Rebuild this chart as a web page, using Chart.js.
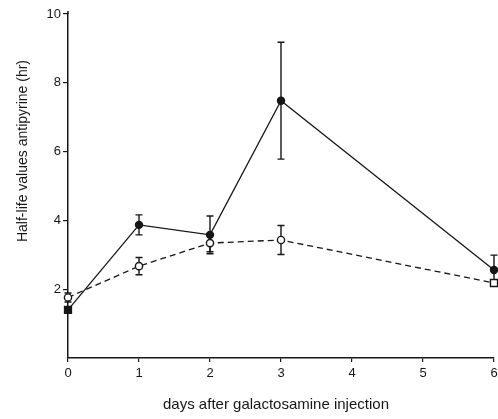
<!DOCTYPE html>
<html>
<head>
<meta charset="utf-8">
<script src="https://cdn.jsdelivr.net/npm/chart.js@4"></script>
<style>
html,body{margin:0;padding:0;background:#fff;}
#wrap{width:498px;height:419px;position:relative;}
</style>
</head>
<body>
<div id="wrap"><canvas id="c" width="498" height="419"></canvas></div>
<script>
// ---- data ----
const days = [0, 1, 2, 3, 6];
const galactosamine = [1.40, 3.87, 3.58, 7.48, 2.56];
const galactosamineSem = [0, 0.29, 0.55, 1.70, 0.43];
const control = [1.76, 2.67, 3.34, 3.43, 2.18];
const controlSem = [0.13, 0.25, 0.25, 0.42, 0];
const xTicks = [0, 1, 2, 3, 4, 5, 6];
const yTicks = [2, 4, 6, 8, 10];
const xTitle = 'days after galactosamine injection';
const yTitle = 'Half-life values antipyrine (hr)';

const INK = '#161616';
const FONT = '"Liberation Sans", Arial, Helvetica, sans-serif';

const errorBars = {
  id: 'errorBars',
  beforeDatasetsDraw(chart) {
    const ctx = chart.ctx;
    const xs = chart.scales.x, ys = chart.scales.y;
    const sets = [[galactosamine, galactosamineSem], [control, controlSem]];
    ctx.save();
    ctx.strokeStyle = INK;
    ctx.lineWidth = 1.4;
    sets.forEach(([vals, sem]) => {
      vals.forEach((v, i) => {
        if (!sem[i]) return;
        const x = xs.getPixelForValue(days[i]);
        const yt = ys.getPixelForValue(v + sem[i]);
        const yb = ys.getPixelForValue(v - sem[i]);
        ctx.beginPath();
        ctx.moveTo(x, yt); ctx.lineTo(x, yb);
        ctx.moveTo(x - 3.5, yt); ctx.lineTo(x + 3.5, yt);
        ctx.moveTo(x - 3.5, yb); ctx.lineTo(x + 3.5, yb);
        ctx.stroke();
      });
    });
    // y axis line runs a little above the top tick, as in the reference
    const ax = chart.chartArea.left;
    ctx.lineWidth = 1.5;
    ctx.beginPath();
    ctx.moveTo(ax, chart.chartArea.top);
    ctx.lineTo(ax, chart.chartArea.top - 3);
    ctx.stroke();
    ctx.restore();
  }
};

const axisTitles = {
  id: 'axisTitles',
  afterDraw(chart) {
    const ctx = chart.ctx;
    ctx.save();
    ctx.fillStyle = INK;
    ctx.textAlign = 'center';
    ctx.textBaseline = 'middle';
    ctx.font = '15px ' + FONT;
    ctx.fillText(xTitle, 276, 405);
    ctx.font = '14px ' + FONT;
    ctx.translate(23, 151);
    ctx.rotate(-Math.PI / 2);
    ctx.fillText(yTitle, 0, 0);
    ctx.restore();
  }
};

new Chart(document.getElementById('c'), {
  type: 'line',
  data: {
    datasets: [
      {
        label: 'galactosamine',
        data: days.map((d, i) => ({x: d, y: galactosamine[i]})),
        borderColor: INK,
        borderWidth: 1.3,
        backgroundColor: INK,
        pointBackgroundColor: INK,
        pointBorderColor: INK,
        pointStyle: ['rect', 'circle', 'circle', 'circle', 'circle'],
        pointRadius: [5, 3.6, 3.6, 3.6, 3.6],
        pointBorderWidth: 1.2,
        tension: 0,
        clip: false
      },
      {
        label: 'control',
        data: days.map((d, i) => ({x: d, y: control[i]})),
        borderColor: INK,
        borderWidth: 1.3,
        borderDash: [6, 4],
        backgroundColor: '#fff',
        pointBackgroundColor: '#fff',
        pointBorderColor: INK,
        pointStyle: ['circle', 'circle', 'circle', 'circle', 'rect'],
        pointRadius: [3.6, 3.6, 3.6, 3.6, 5],
        pointBorderWidth: 1.4,
        tension: 0,
        clip: false
      }
    ]
  },
  options: {
    responsive: false,
    animation: false,
    events: [],
    layout: {autoPadding: false, padding: {left: 0, right: 4, top: 14, bottom: 0}},
    plugins: {legend: {display: false}, tooltip: {enabled: false}},
    scales: {
      x: {
        type: 'linear',
        min: 0, max: 6,
        afterFit(s) { s.height = 61; s.paddingRight = 0; s.paddingLeft = 0; },
        afterBuildTicks(s) { s.ticks = xTicks.map(v => ({value: v})); },
        border: {display: true, color: INK, width: 1.5},
        grid: {drawOnChartArea: false, drawTicks: true, tickLength: 4, color: INK, lineWidth: 1.2},
        ticks: {color: INK, padding: 4, font: {family: FONT, size: 13}, maxRotation: 0}
      },
      y: {
        type: 'linear',
        min: 0, max: 10,
        afterFit(s) { s.width = 68; },
        afterBuildTicks(s) { s.ticks = yTicks.map(v => ({value: v})); },
        border: {display: true, color: INK, width: 1.5},
        grid: {drawOnChartArea: false, drawTicks: true, tickLength: 5, color: INK, lineWidth: 1.2},
        ticks: {color: INK, padding: 2, font: {family: FONT, size: 13}}
      }
    }
  },
  plugins: [errorBars, axisTitles]
});
</script>
</body>
</html>
